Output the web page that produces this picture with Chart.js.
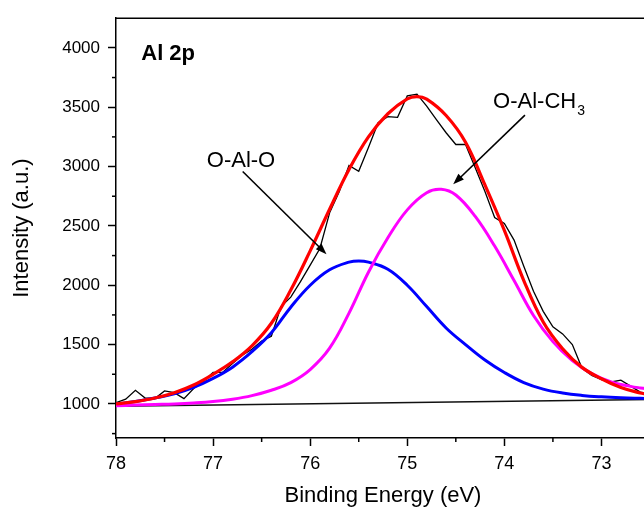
<!DOCTYPE html>
<html>
<head>
<meta charset="utf-8">
<script src="https://cdn.jsdelivr.net/npm/chart.js@4.4.0/dist/chart.umd.min.js"></script>
<style>
  body { margin: 0; background: #fff; overflow: hidden; }
  #wrap { width: 650px; height: 507px; }
</style>
</head>
<body>
<div id="wrap"><canvas id="xpsChart" width="650" height="507"></canvas></div>
<script>
// raw spectrum (black)
const rawEnergy = [78.0, 77.9, 77.8, 77.7, 77.6, 77.5, 77.4, 77.3, 77.2, 77.1, 77.0, 76.9, 76.8, 76.7, 76.6, 76.5, 76.4, 76.3, 76.2, 76.1, 76.0,
    75.9, 75.8, 75.7, 75.6, 75.5, 75.4, 75.3, 75.2, 75.1, 75.0, 74.9, 74.8, 74.7, 74.6, 74.5, 74.4, 74.3, 74.2, 74.1, 74.0,
    73.9, 73.8, 73.7, 73.6, 73.5, 73.4, 73.3, 73.2, 73.1, 73.0, 72.9, 72.8, 72.7, 72.6, 72.5];
const rawCounts = [1010, 1040, 1115, 1050, 1045, 1110, 1095, 1045, 1130, 1190, 1265, 1268, 1340, 1410, 1460, 1530, 1570, 1820, 1900, 2030, 2170,
    2310, 2610, 2790, 3010, 2960, 3160, 3370, 3420, 3415, 3595, 3610, 3510, 3395, 3285, 3186, 3186, 2990, 2790, 2570, 2520,
    2380, 2160, 1950, 1780, 1650, 1590, 1500, 1300, 1240, 1205, 1185, 1200, 1150, 1100, 1085];

// envelope fit (red)
const fitEnergy = [78.0, 77.8, 77.6, 77.4, 77.2, 77.0, 76.8, 76.6, 76.4, 76.2, 76.0, 75.8, 75.6, 75.4, 75.2, 75.0, 74.9, 74.8,
    74.6, 74.4, 74.2, 74.0, 73.8, 73.6, 73.4, 73.2, 73.0, 72.8, 72.6, 72.5];
const fitCounts = [1000, 1020, 1050, 1095, 1160, 1250, 1355, 1490, 1680, 1960, 2290, 2640, 2975, 3250, 3445, 3570, 3590, 3568,
    3430, 3205, 2845, 2462, 2040, 1690, 1465, 1308, 1212, 1138, 1092, 1078];

// O-Al-O component (blue)
const oaloEnergy = [78.0, 77.8, 77.6, 77.4, 77.2, 77.0, 76.8, 76.6, 76.4, 76.2, 76.0, 75.8, 75.6, 75.5, 75.4, 75.2, 75.0,
    74.8, 74.6, 74.4, 74.2, 74.0, 73.8, 73.6, 73.4, 73.2, 73.0, 72.8, 72.6, 72.5];
const oaloCounts = [1000, 1020, 1050, 1085, 1140, 1215, 1310, 1440, 1600, 1815, 2000, 2130, 2195, 2205, 2195, 2135, 2000,
    1820, 1640, 1500, 1370, 1265, 1180, 1125, 1092, 1072, 1060, 1052, 1047, 1045];

// O-Al-CH3 component (magenta)
const oalchEnergy = [78.0, 77.8, 77.6, 77.4, 77.2, 77.0, 76.8, 76.6, 76.4, 76.2, 76.0, 75.8, 75.6, 75.4, 75.2, 75.0, 74.8,
    74.65, 74.5, 74.3, 74.1, 73.9, 73.7, 73.5, 73.3, 73.1, 72.9, 72.7, 72.6, 72.5];
const oalchCounts = [985, 990, 995, 1000, 1008, 1020, 1040, 1070, 1115, 1180, 1290, 1470, 1765, 2110, 2400, 2635, 2780,
    2808, 2760, 2580, 2330, 2040, 1745, 1525, 1365, 1255, 1185, 1148, 1135, 1125];

// linear background
const bgEnergy = [78.0, 72.5];
const bgCounts = [980, 1038];

const xTicks = [78, 77, 76, 75, 74, 73];
const yTicks = [1000, 1500, 2000, 2500, 3000, 3500, 4000];
const xMinor = [77.5, 76.5, 75.5, 74.5, 73.5];
const yMinor = [750, 1250, 1750, 2250, 2750, 3250, 3750];

function pairs(xs, ys) {
    return xs.map(function (x, i) { return { x: x, y: ys[i] }; });
}

const fontFamily = "'Liberation Sans', Arial, sans-serif";

function arrow(ctx, x1, y1, x2, y2) {
    const ang = Math.atan2(y2 - y1, x2 - x1);
    const head = 11, half = 4;
    ctx.beginPath();
    ctx.moveTo(x1, y1);
    ctx.lineTo(x2 - Math.cos(ang) * head * 0.8, y2 - Math.sin(ang) * head * 0.8);
    ctx.stroke();
    ctx.beginPath();
    ctx.moveTo(x2, y2);
    ctx.lineTo(x2 - head * Math.cos(ang) + half * Math.sin(ang), y2 - head * Math.sin(ang) - half * Math.cos(ang));
    ctx.lineTo(x2 - head * Math.cos(ang) - half * Math.sin(ang), y2 - head * Math.sin(ang) + half * Math.cos(ang));
    ctx.closePath();
    ctx.fill();
}

const decorations = {
    id: 'decorations',
    afterDraw: function (chart) {
        const ctx = chart.ctx;
        const xs = chart.scales.x, ys = chart.scales.y;
        const area = chart.chartArea;
        ctx.save();
        ctx.strokeStyle = '#000';
        ctx.fillStyle = '#000';
        ctx.lineWidth = 1.5;
        // top frame line
        ctx.beginPath();
        ctx.moveTo(area.left, area.top);
        ctx.lineTo(area.right, area.top);
        ctx.stroke();
        // minor ticks
        xMinor.forEach(function (v) {
            const px = xs.getPixelForValue(v);
            ctx.beginPath();
            ctx.moveTo(px, area.bottom);
            ctx.lineTo(px, area.bottom + 4);
            ctx.stroke();
        });
        yMinor.forEach(function (v) {
            const py = ys.getPixelForValue(v);
            ctx.beginPath();
            ctx.moveTo(area.left, py);
            ctx.lineTo(area.left - 4, py);
            ctx.stroke();
        });
        // labels
        ctx.textBaseline = 'alphabetic';
        ctx.textAlign = 'left';
        ctx.font = 'bold 22px ' + fontFamily;
        ctx.fillText('Al 2p', xs.getPixelForValue(77.74), ys.getPixelForValue(3900));
        ctx.font = '22px ' + fontFamily;
        ctx.fillText('O-Al-O', xs.getPixelForValue(77.065), ys.getPixelForValue(3000));
        const lx = xs.getPixelForValue(74.116), ly = ys.getPixelForValue(3492);
        ctx.fillText('O-Al-CH', lx, ly);
        const w = ctx.measureText('O-Al-CH').width;
        ctx.font = '14px ' + fontFamily;
        ctx.fillText('3', lx + w + 1, ly + 7);
        // arrows
        ctx.lineWidth = 1.6;
        arrow(ctx, xs.getPixelForValue(76.695), ys.getPixelForValue(2958), xs.getPixelForValue(75.832), ys.getPixelForValue(2262));
        arrow(ctx, xs.getPixelForValue(73.788), ys.getPixelForValue(3433), xs.getPixelForValue(74.527), ys.getPixelForValue(2850));
        ctx.restore();
    }
};

const ctx = document.getElementById('xpsChart').getContext('2d');
new Chart(ctx, {
    type: 'line',
    data: {
        datasets: [
            {
                label: 'Fit',
                data: pairs(fitEnergy, fitCounts),
                borderColor: '#ff0000',
                borderWidth: 3.2,
                tension: 0.4,
                pointRadius: 0
            },
            {
                label: 'O-Al-CH3',
                data: pairs(oalchEnergy, oalchCounts),
                borderColor: '#ff00ff',
                borderWidth: 3,
                tension: 0.4,
                pointRadius: 0
            },
            {
                label: 'O-Al-O',
                data: pairs(oaloEnergy, oaloCounts),
                borderColor: '#0000ff',
                borderWidth: 3,
                tension: 0.4,
                pointRadius: 0
            },
            {
                label: 'Background',
                data: pairs(bgEnergy, bgCounts),
                borderColor: '#111111',
                borderWidth: 1.6,
                pointRadius: 0
            },
            {
                label: 'Raw',
                data: pairs(rawEnergy, rawCounts),
                borderColor: '#000000',
                borderWidth: 1.3,
                tension: 0,
                pointRadius: 0
            }
        ]
    },
    options: {
        responsive: false,
        animation: false,
        devicePixelRatio: 1,
        layout: { padding: { top: 13, left: 0, right: 0, bottom: 0 } },
        plugins: {
            legend: { display: false },
            tooltip: { enabled: false }
        },
        scales: {
            x: {
                type: 'linear',
                reverse: true,
                min: 72.5,
                max: 78,
                afterBuildTicks: function (scale) {
                    scale.ticks = xTicks.map(function (v) { return { value: v }; });
                },
                afterFit: function (scale) { scale.height = 69; },
                grid: { drawOnChartArea: false, tickLength: 8, tickWidth: 1.5, tickColor: '#000' },
                border: { display: true, color: '#000', width: 1.5 },
                ticks: { color: '#000', font: { family: fontFamily, size: 18 }, padding: 7, maxRotation: 0 },
                title: {
                    display: true,
                    text: 'Binding Energy (eV)',
                    color: '#000',
                    font: { family: fontFamily, size: 22, lineHeight: 1.0 },
                    padding: { top: 0, bottom: 0 }
                }
            },
            y: {
                min: 713,
                max: 4250,
                afterBuildTicks: function (scale) {
                    scale.ticks = yTicks.map(function (v) { return { value: v }; });
                },
                afterFit: function (scale) { scale.width = 116; },
                grid: { drawOnChartArea: false, tickLength: 8, tickWidth: 1.5, tickColor: '#000' },
                border: { display: true, color: '#000', width: 1.5 },
                ticks: {
                    color: '#000',
                    font: { family: fontFamily, size: 17 },
                    padding: 8,
                    callback: function (value) { return String(value); }
                },
                title: {
                    display: true,
                    text: 'Intensity (a.u.)',
                    color: '#000',
                    font: { family: fontFamily, size: 22, lineHeight: 1.0 },
                    padding: { top: 11, bottom: 0 }
                }
            }
        }
    },
    plugins: [decorations]
});
</script>
</body>
</html>
